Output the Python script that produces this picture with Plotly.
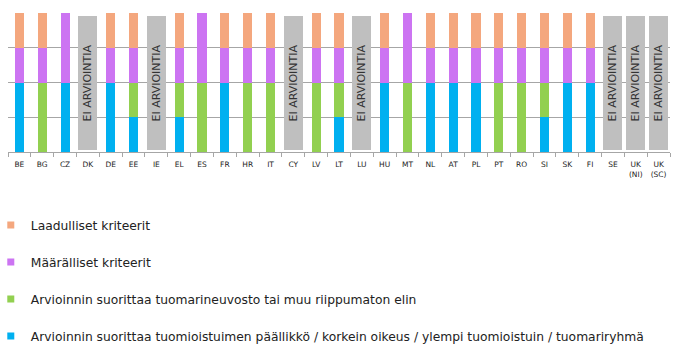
import plotly.graph_objects as go

countries = ["BE", "BG", "CZ", "DK", "DE", "EE", "IE", "EL", "ES", "FR", "HR", "IT", "CY", "LV",
             "LT", "LU", "HU", "MT", "NL", "AT", "PL", "PT", "RO", "SI", "SK", "FI", "SE",
             "UK<br>(NI)", "UK<br>(SC)"]
blue =   [2, 0, 2, 0, 2, 1, 0, 1, 0, 2, 0, 0, 0, 0, 1, 0, 2, 0, 2, 2, 2, 0, 0, 1, 2, 2, 0, 0, 0]
green =  [0, 2, 0, 0, 0, 1, 0, 1, 2, 0, 2, 2, 0, 2, 1, 0, 0, 2, 0, 0, 0, 2, 2, 1, 0, 0, 0, 0, 0]
purple = [1, 1, 2, 0, 1, 1, 0, 1, 2, 1, 1, 1, 0, 1, 1, 0, 1, 2, 1, 1, 1, 1, 1, 1, 1, 1, 0, 0, 0]
orange = [1, 1, 0, 0, 1, 1, 0, 1, 0, 1, 1, 1, 0, 1, 1, 0, 1, 0, 1, 1, 1, 1, 1, 1, 1, 1, 0, 0, 0]
no_eval = [0, 0, 0, 1, 0, 0, 1, 0, 0, 0, 0, 0, 1, 0, 0, 1, 0, 0, 0, 0, 0, 0, 0, 0, 0, 0, 1, 1, 1]

names = {
    "orange": "Laadulliset kriteerit",
    "purple": "Määrälliset kriteerit",
    "green": "Arvioinnin suorittaa tuomarineuvosto tai muu riippumaton elin",
    "blue": "Arvioinnin suorittaa tuomioistuimen päällikkö / korkein oikeus / ylempi tuomioistuin / tuomariryhmä",
}
na_label = "EI ARVIOINTIA"

C_BLUE = "#00B0F0"
C_GREEN = "#92D050"
C_PURPLE = "#CC74F2"
C_ORANGE = "#F4A77E"
C_GRAY = "#BFBFBF"

BAR_W = 0.4
NA_W = 0.83
NA_BASE = 0.05
NA_TOP = 3.92

base_green = blue
base_purple = [b + g for b, g in zip(blue, green)]
base_orange = [b + g + p for b, g, p in zip(blue, green, purple)]

fig = go.Figure()

def add_bar(vals, base, color):
    fig.add_trace(go.Bar(x=countries, y=vals, base=base, width=BAR_W,
                         marker=dict(color=color, line=dict(width=0)),
                         showlegend=False, hoverinfo="skip"))

add_bar(blue, [0] * len(blue), C_BLUE)
add_bar(green, base_green, C_GREEN)
add_bar(purple, base_purple, C_PURPLE)
add_bar(orange, base_orange, C_ORANGE)

fig.add_trace(go.Bar(
    x=countries,
    y=[(NA_TOP - NA_BASE) if f else None for f in no_eval],
    base=NA_BASE, width=NA_W,
    marker=dict(color=C_GRAY, line=dict(width=0)),
    text=[na_label if f else "" for f in no_eval],
    textposition="inside", textangle=-90, insidetextanchor="middle",
    constraintext="none",
    insidetextfont=dict(family="DejaVu Sans", size=11, color="#333333"),
    showlegend=False, hoverinfo="skip"))

for key, color in [("orange", C_ORANGE), ("purple", C_PURPLE), ("green", C_GREEN), ("blue", C_BLUE)]:
    fig.add_trace(go.Scatter(x=[None], y=[None], mode="markers", name=names[key],
                             legendgroup=key,
                             marker=dict(symbol="square", size=7, color=color)))

fig.update_layout(
    width=681, height=354,
    barmode="overlay",
    bargap=0,
    plot_bgcolor="white", paper_bgcolor="white",
    margin=dict(l=8, r=11, t=13, b=202, autoexpand=False),
    font=dict(family="DejaVu Sans", color="#222222"),
    legend=dict(x=-0.026, y=-0.42, xanchor="left", yanchor="top",
                font=dict(size=12.3, color="#222222"),
                tracegroupgap=18, itemwidth=30, bgcolor="rgba(0,0,0,0)"),
    xaxis=dict(type="category", tickson="boundaries", ticks="outside", ticklen=4,
               tickangle=0, ticklabelstandoff=5,
               tickcolor="#A6A6A6", showline=True, linecolor="#A6A6A6", linewidth=1,
               tickfont=dict(size=7.5, color="#222222"), showgrid=False),
    yaxis=dict(range=[0, 4], dtick=1, showticklabels=False, showgrid=True,
               gridcolor="#A6A6A6", gridwidth=1, zeroline=False, ticks=""),
)

fig.write_html("out.html")
